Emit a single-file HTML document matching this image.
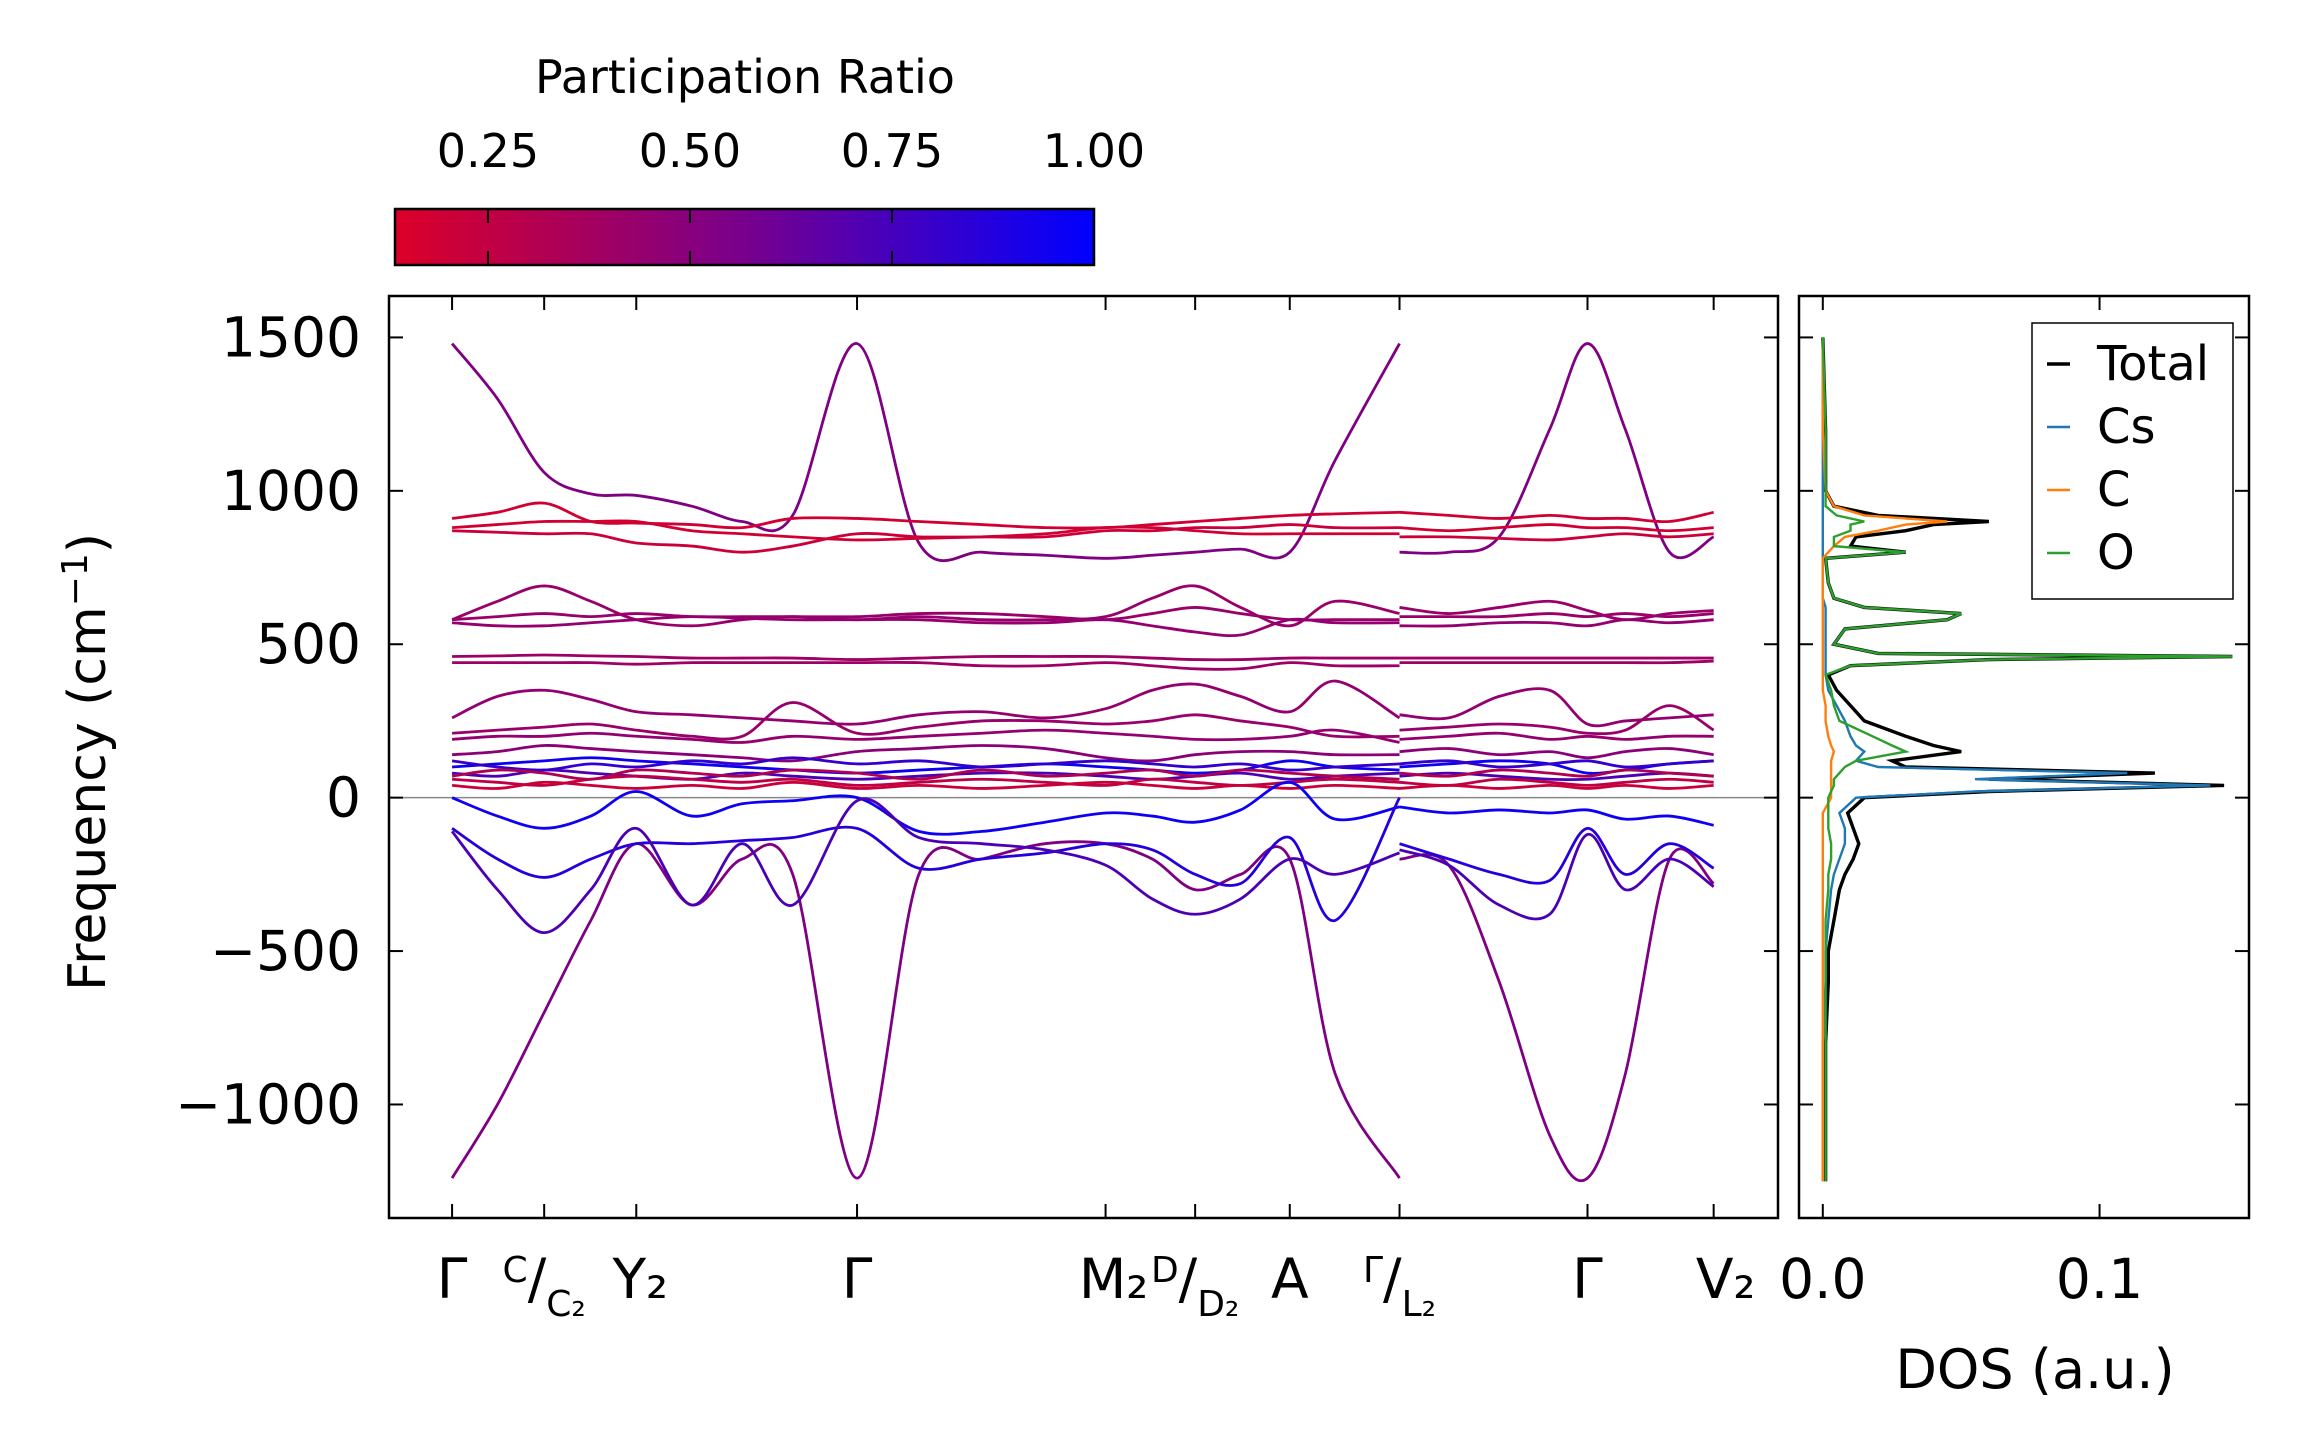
<!DOCTYPE html>
<html><head><meta charset="utf-8"><style>
html,body{margin:0;padding:0;background:#fff}
svg{display:block}
text{font-family:"DejaVu Sans","Liberation Sans",sans-serif;fill:#000}
</style></head><body>
<svg id="chart" width="2308" height="1455" viewBox="0 0 2308 1455" xmlns="http://www.w3.org/2000/svg">
<defs>
<linearGradient id="cmap" x1="0" x2="1" y1="0" y2="0">
<stop offset="0" stop-color="rgb(220,0,40)"/><stop offset="0.5" stop-color="rgb(120,0,140)"/><stop offset="1" stop-color="rgb(0,0,255)"/>
</linearGradient>
<clipPath id="clipMain"><rect x="389" y="296" width="1389" height="922"/></clipPath>
<clipPath id="clipDos"><rect x="1799" y="296" width="450" height="922"/></clipPath>
</defs>
<g id="cbar">
<text x="745" y="93" font-size="46" text-anchor="middle">Participation Ratio</text>
<rect x="395" y="209" width="699" height="56" fill="url(#cmap)" stroke="#000" stroke-width="2.5"/>
</g>
<g id="main"></g>
<g id="dos"></g>
<text transform="translate(105,762) rotate(-90)" font-size="52" text-anchor="middle">Frequency (cm<tspan font-size="36" dy="-18">−1</tspan><tspan dy="18">)</tspan></text>
<text x="2035" y="1388" font-size="54" text-anchor="middle">DOS (a.u.)</text>
</svg>
<script>
const NS="http://www.w3.org/2000/svg";
// ---------- data ----------
const cbTicks=[0.25,0.5,0.75,1.0];
const cbTickLabels=["0.25","0.50","0.75","1.00"];
const yTicks=[-1000,-500,0,500,1000,1500];
const yTickLabels=["−1000","−500","0","500","1000","1500"];
const kTicks=[0,0.073,0.146,0.321,0.518,0.589,0.664,0.751,0.900,1.0];
const kSegA=[0,.036,.073,.11,.146,.19,.23,.27,.321,.37,.42,.47,.518,.555,.589,.625,.664,.70,.751];
const kSegB=[.751,.79,.83,.87,.90,.93,.965,1.0];
const bandPR=[0.5,0.5,0.18,0.18,0.2,0.4,0.4,0.42,0.38,0.38,0.42,0.4,0.42,0.45,0.95,0.7,0.25,0.2,0.95,0.85,0.7,0.8,0.3];
const bandsA=[
[1480,1300,1060,990,985,950,900,920,1480,830,800,790,780,790,800,810,800,1100,1480],
[-1240,-1000,-700,-400,-150,-350,-200,-250,-1240,-250,-200,-150,-150,-200,-300,-250,-200,-900,-1240],
[910,930,960,900,895,890,880,910,910,900,890,880,880,890,900,910,920,925,930],
[880,890,900,900,900,870,860,850,840,845,850,860,880,880,870,860,860,860,860],
[870,865,860,860,830,820,800,820,860,850,850,850,870,870,880,880,890,880,880],
[580,640,690,640,580,560,580,590,580,590,580,580,590,650,690,620,560,640,600],
[580,590,600,590,600,590,590,590,590,600,600,590,580,600,620,600,580,580,580],
[570,560,560,570,580,590,585,580,580,580,570,570,580,560,540,530,580,570,570],
[460,462,465,462,460,455,455,455,450,455,460,460,460,455,450,450,455,455,455],
[440,440,440,440,435,440,440,440,440,440,430,430,440,430,420,420,440,430,430],
[260,330,350,320,280,270,260,250,240,270,280,260,290,350,370,330,280,380,260],
[210,220,230,240,220,200,200,310,210,230,250,250,240,250,270,250,230,200,200],
[190,200,200,210,200,190,180,200,190,200,210,220,210,200,190,190,200,220,180],
[140,150,170,160,150,140,130,120,150,160,170,160,130,120,140,150,150,140,140],
[100,110,120,130,120,110,100,90,80,90,100,110,100,90,80,90,120,100,90],
[80,70,90,80,70,60,80,70,60,70,80,80,70,60,70,80,60,70,80],
[60,50,40,60,70,60,50,60,40,50,60,50,40,60,50,40,50,60,50],
[40,30,50,40,30,40,30,50,30,40,30,40,50,40,30,40,30,40,30],
[0,-60,-100,-60,20,-60,-20,-10,0,-110,-110,-80,-50,-60,-80,-40,50,-70,-30],
[-100,-200,-260,-200,-150,-150,-140,-130,-100,-230,-200,-180,-150,-170,-250,-280,-130,-400,0],
[-110,-300,-440,-300,-100,-350,-150,-350,-10,-130,-150,-170,-220,-330,-380,-330,-200,-250,-180],
[120,100,90,110,100,120,110,130,110,120,100,110,120,110,100,110,90,100,110],
[70,90,80,60,90,80,70,90,80,60,90,70,80,90,70,90,80,70,60]
];
const bandsB=[
[800,800,850,1200,1480,1200,800,850],
[-200,-220,-600,-1100,-1240,-900,-200,-280],
[930,920,910,920,910,910,900,930],
[880,870,880,890,880,880,870,880],
[850,850,845,840,850,860,850,860],
[620,600,620,640,610,580,600,610],
[590,590,590,600,590,600,590,600],
[560,560,570,570,560,580,570,580],
[455,455,455,455,455,455,455,455],
[440,440,440,440,440,440,440,445],
[270,260,330,350,240,250,260,270],
[220,230,240,230,210,220,300,220],
[190,200,210,190,200,190,200,200],
[150,160,140,150,130,150,160,140],
[100,110,120,110,80,90,110,120],
[70,80,70,60,60,70,80,70],
[50,40,60,50,40,50,60,50],
[30,40,30,40,30,40,30,40],
[-30,-50,-40,-50,-40,-70,-60,-90],
[-150,-200,-250,-270,-100,-250,-150,-230],
[-170,-220,-350,-380,-120,-300,-200,-290],
[110,120,100,110,120,100,110,120],
[80,70,90,80,70,90,80,70]
];
const dosFreq=[-1250,-1000,-800,-600,-500,-400,-300,-250,-200,-150,-100,-50,0,20,40,60,80,100,120,150,170,200,250,300,350,400,430,450,460,470,500,550,580,600,620,650,700,780,800,820,850,870,890,900,920,950,1000,1200,1500];
const dosTotal=[0.001,0.001,0.001,0.002,0.002,0.004,0.006,0.008,0.011,0.013,0.011,0.009,0.015,0.06,0.145,0.06,0.12,0.03,0.025,0.05,0.04,0.03,0.015,0.01,0.005,0.002,0.01,0.06,0.148,0.02,0.004,0.008,0.045,0.05,0.015,0.004,0.002,0.001,0.03,0.01,0.012,0.03,0.04,0.06,0.02,0.004,0.001,0.001,0];
const dosCs=[0,0,0,0.001,0.001,0.002,0.003,0.004,0.006,0.008,0.008,0.006,0.012,0.055,0.14,0.055,0.11,0.02,0.012,0.015,0.012,0.01,0.008,0.005,0.002,0.001,0.001,0.001,0.001,0.001,0.001,0.001,0.001,0.001,0.001,0,0,0,0,0,0,0,0,0,0,0,0,0,0];
const dosC=[0,0,0,0,0,0,0,0,0,0,0,0,0.003,0.003,0.003,0.003,0.003,0.003,0.003,0.004,0.003,0.002,0.001,0.001,0,0,0,0,0,0,0,0,0,0,0,0,0,0,0.002,0.004,0.008,0.02,0.03,0.045,0.015,0.004,0.001,0,0];
const dosO=[0.001,0.001,0.001,0.001,0.001,0.001,0.002,0.002,0.003,0.003,0.002,0.002,0.002,0.003,0.004,0.004,0.006,0.008,0.012,0.03,0.025,0.018,0.006,0.004,0.003,0.001,0.01,0.06,0.148,0.02,0.004,0.008,0.045,0.05,0.015,0.004,0.002,0.001,0.03,0.004,0.004,0.01,0.01,0.015,0.005,0.001,0.001,0.001,0];
const dosTicks=[0,0.1];
const dosTickLabels=["0.0","0.1"];
// ---------- scales ----------
const X0=389,X1=1778,Y0=296,Y1=1218,D0=1799,D1=2249;
const kMin=-0.050,kMax=1.051,fMin=-1370,fMax=1635;
const xs=k=>X0+(k-kMin)/(kMax-kMin)*(X1-X0);
const ys=f=>Y1-(f-fMin)/(fMax-fMin)*(Y1-Y0);
const dMin=-0.0086,dMax=0.154;
const ds=d=>D0+(d-dMin)/(dMax-dMin)*(D1-D0);
const cbs=v=>395+(v-0.135)/(1-0.135)*699;
function prColor(p){const t=Math.max(0,Math.min(1,(p-0.135)/(0.865)));
 return `rgb(${Math.round(220*(1-t))},0,${Math.round(40+215*t)})`;}
function el(tag,attrs,parent){const e=document.createElementNS(NS,tag);for(const a in attrs)e.setAttribute(a,attrs[a]);parent.appendChild(e);return e;}
function smooth(pts){let d=`M${pts[0][0]},${pts[0][1]}`;
 for(let i=0;i<pts.length-1;i++){const p0=pts[Math.max(0,i-1)],p1=pts[i],p2=pts[i+1],p3=pts[Math.min(pts.length-1,i+2)];
 d+=` C${p1[0]+(p2[0]-p0[0])/6},${p1[1]+(p2[1]-p0[1])/6} ${p2[0]-(p3[0]-p1[0])/6},${p2[1]-(p3[1]-p1[1])/6} ${p2[0]},${p2[1]}`;}
 return d;}
const svg=document.getElementById('chart');
const cb=document.getElementById('cbar');
cbTicks.forEach((v,i)=>{
 const t=el('line',{x1:cbs(v),x2:cbs(v),y1:209,y2:265,stroke:'#000','stroke-width':2,'stroke-dasharray':'14 28 14 0'},cb);
 
 
 const l=el('text',{x:cbs(v),y:167,'font-size':46,'text-anchor':'middle'},cb);l.textContent=cbTickLabels[i];
 
 
});
const m=document.getElementById('main');
const bandG=el('g',{'clip-path':'url(#clipMain)'},m);


const zl=el('line',{x1:X0,x2:X1,y1:ys(0),y2:ys(0),stroke:'#888','stroke-width':1.5},bandG);


bandsA.forEach((b,i)=>{
 const p=el('path',{d:smooth(b.map((f,j)=>[xs(kSegA[j]),ys(f)])),fill:'none',stroke:prColor(bandPR[i]),'stroke-width':2.8},bandG);
 
 
});
bandsB.forEach((b,i)=>{
 const p=el('path',{d:smooth(b.map((f,j)=>[xs(kSegB[j]),ys(f)])),fill:'none',stroke:prColor(bandPR[i]),'stroke-width':2.8},bandG);
 
 
});
const fr=el('rect',{x:X0,y:Y0,width:X1-X0,height:Y1-Y0,fill:'none',stroke:'#000','stroke-width':2.5},m);


yTicks.forEach((v,i)=>{
 el('line',{x1:X0,x2:X0+14,y1:ys(v),y2:ys(v),stroke:'#000','stroke-width':2},m);
 el('line',{x1:X1,x2:X1-14,y1:ys(v),y2:ys(v),stroke:'#000','stroke-width':2},m);
 const l=el('text',{x:X0-28,y:ys(v)+19,'font-size':55,'text-anchor':'end'},m);l.textContent=yTickLabels[i];
 
 
});
kTicks.forEach(k=>{
 el('line',{x1:xs(k),x2:xs(k),y1:Y1,y2:Y1-14,stroke:'#000','stroke-width':2},m);
 el('line',{x1:xs(k),x2:xs(k),y1:Y0,y2:Y0+14,stroke:'#000','stroke-width':2},m);
});
const kl=el('g',{'font-size':55},m);


kl.innerHTML=`<text x="${xs(0)}" y="1298" text-anchor="middle">Γ</text>
<text x="${xs(0.073)}" y="1298" text-anchor="middle"><tspan font-size="36" dy="-16">C</tspan><tspan dy="16">/</tspan><tspan font-size="36" dy="18">C₂</tspan></text>
<text x="${xs(0.146)+4}" y="1298" text-anchor="middle">Y₂</text>
<text x="${xs(0.321)}" y="1298" text-anchor="middle">Γ</text>
<text x="${xs(0.518)+8}" y="1298" text-anchor="middle">M₂</text>
<text x="${xs(0.589)}" y="1298" text-anchor="middle"><tspan font-size="36" dy="-16">D</tspan><tspan dy="16">/</tspan><tspan font-size="36" dy="18">D₂</tspan></text>
<text x="${xs(0.664)}" y="1298" text-anchor="middle">A</text>
<text x="${xs(0.751)}" y="1298" text-anchor="middle"><tspan font-size="36" dy="-16">Γ</tspan><tspan dy="16">/</tspan><tspan font-size="36" dy="18">L₂</tspan></text>
<text x="${xs(0.9)}" y="1298" text-anchor="middle">Γ</text>
<text x="${xs(1.0)+12}" y="1298" text-anchor="middle">V₂</text>`;
const dg=document.getElementById('dos');
const dc=el('g',{'clip-path':'url(#clipDos)'},dg);
const series=[[dosTotal,'#000','dos-total'],[dosCs,'#1f77b4','dos-cs'],[dosC,'#ff7f0e','dos-c'],[dosO,'#2ca02c','dos-o']];
series.forEach(([arr,c,n])=>{
 const pts=arr.map((v,i)=>`${ds(v).toFixed(1)},${ys(dosFreq[i]).toFixed(1)}`).join(' ');
 const p=el('polyline',{points:pts,fill:'none',stroke:c,'stroke-width':n==='dos-total'?3.4:2.4},dc);
 
 
});
const dfr=el('rect',{x:D0,y:Y0,width:D1-D0,height:Y1-Y0,fill:'none',stroke:'#000','stroke-width':2.5},dg);


yTicks.forEach(v=>{
 el('line',{x1:D0,x2:D0+14,y1:ys(v),y2:ys(v),stroke:'#000','stroke-width':2},dg);
 el('line',{x1:D1,x2:D1-14,y1:ys(v),y2:ys(v),stroke:'#000','stroke-width':2},dg);
});
dosTicks.forEach((v,i)=>{
 el('line',{x1:ds(v),x2:ds(v),y1:Y1,y2:Y1-14,stroke:'#000','stroke-width':2},dg);
 el('line',{x1:ds(v),x2:ds(v),y1:Y0,y2:Y0+14,stroke:'#000','stroke-width':2},dg);
 const l=el('text',{x:ds(v),y:1298,'font-size':55,'text-anchor':'middle'},dg);l.textContent=dosTickLabels[i];
 
 
});
const lg=el('g',{},dg);


el('rect',{x:2032,y:323,width:201,height:276,fill:'#fff',stroke:'#000','stroke-width':1.5},lg);
[['Total','#000'],['Cs','#1f77b4'],['C','#ff7f0e'],['O','#2ca02c']].forEach(([n,c],i)=>{
 const y=380+i*63;
 el('line',{x1:2047,x2:2070,y1:y-16,y2:y-16,stroke:c,'stroke-width':i===0?3.4:2.4},lg);
 const t=el('text',{x:2097,y:y,'font-size':48},lg);t.textContent=n;
 
 
});
</script>
</body></html>
